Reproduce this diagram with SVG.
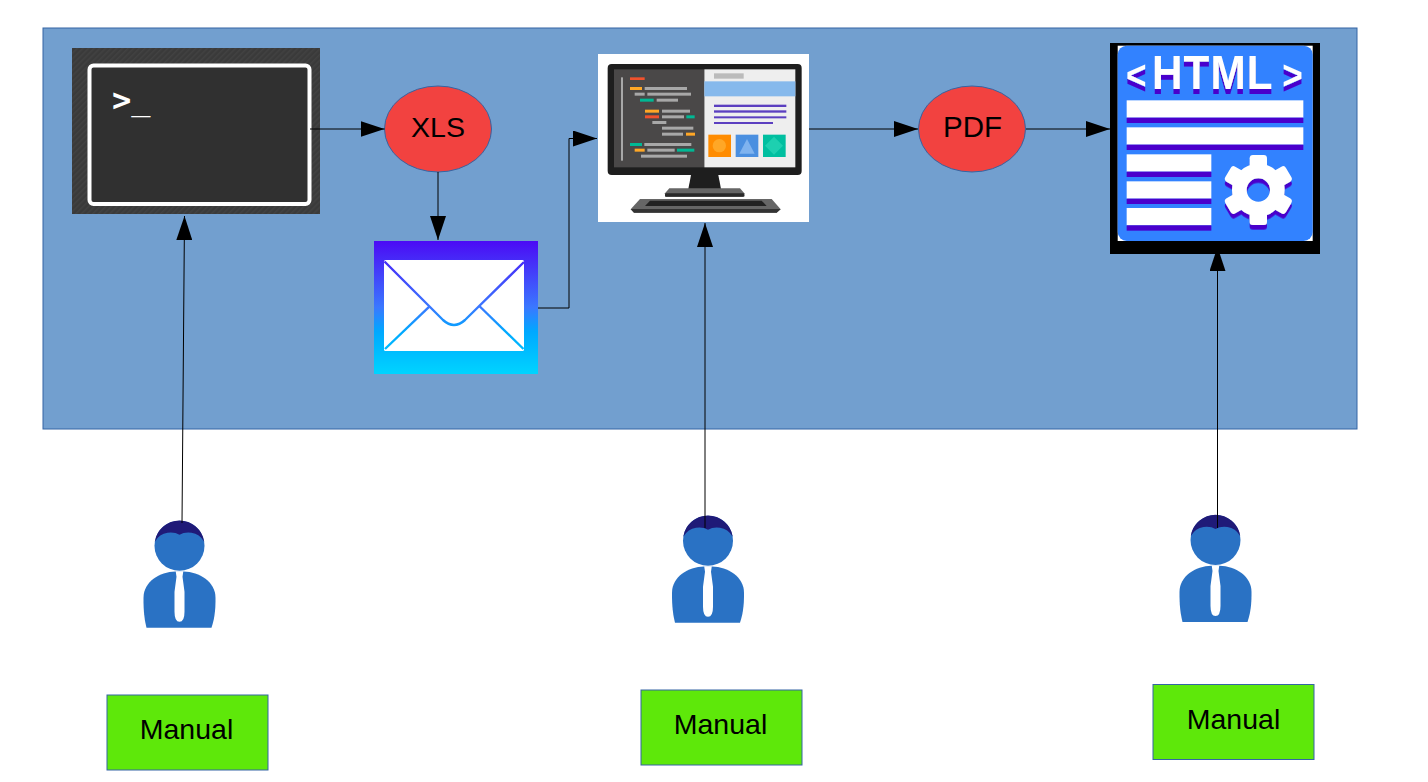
<svg xmlns="http://www.w3.org/2000/svg" width="1428" height="782" viewBox="0 0 1428 782">
<style>
text{font-family:"Liberation Sans",Arial,sans-serif;fill:#000}
.lbl{font-size:28.5px;text-anchor:middle}
.bub{font-size:29.5px;text-anchor:middle}
.bubble{fill:#f24240;stroke:#3465a4;stroke-width:1}
.manual{fill:#5ee80a;stroke:#3465a4;stroke-width:1}
.conn{fill:none;stroke:#000;stroke-width:1;marker-end:url(#arrow)}
.g{fill:#a8a8a8}.o{fill:#ffa726}.r{fill:#f0522d}.t{fill:#00b894}.p{fill:#5b3fc0}
.bar{fill:#fff}.sh{fill:#4a00cc}
</style>
<defs>
<marker id="arrow" markerUnits="userSpaceOnUse" markerWidth="24" markerHeight="16" viewBox="0 0 24 16" refX="24" refY="8" orient="auto"><path d="M0,0L24,8L0,16Z" fill="#000"/></marker>
<pattern id="hatch" width="4" height="4" patternUnits="userSpaceOnUse" patternTransform="rotate(-45)"><rect width="4" height="4" fill="#3a3a3a"/><rect width="4" height="1.5" fill="#424242"/></pattern>
<linearGradient id="envgrad" gradientUnits="userSpaceOnUse" x1="0" y1="241" x2="0" y2="374"><stop offset="0" stop-color="#4b0bf5"/><stop offset=".5" stop-color="#3a78ff"/><stop offset=".68" stop-color="#00a8ff"/><stop offset="1" stop-color="#00d4ff"/></linearGradient>
<filter id="drop" x="-10%" y="-10%" width="120%" height="130%"><feDropShadow dx="0" dy="5" stdDeviation="0" flood-color="#4a00cc"/></filter>
<filter id="drop2" x="-10%" y="-10%" width="120%" height="130%"><feDropShadow dx="0" dy="14" stdDeviation="0" flood-color="#4a00cc"/></filter>
<g id="person">
<path d="M-33,82L32,82C36,70 36,60 36,52C36,36 20,26 4,25.7L-4,25.7C-20,26 -36,36 -36,52C-36,60 -36,70 -33,82Z" fill="#2a72c4"/>
<path d="M-3.8,25.5L3.8,25.5L3,31L5,46L5,66Q5,76 0,76Q-5,76 -5,66L-5,46L-3,31Z" fill="#fff"/>
<circle r="25" fill="#2a72c4"/>
<path d="M-24.7,-4A25,25 0 0 1 24.7,-4Q20,-12 12,-13Q5,-14 0,-11Q-5,-14 -12,-13Q-20,-12 -24.7,-4Z" fill="#1f1a78"/>
</g>
</defs>
<rect width="1428" height="782" fill="#fff"/>
<rect id="panel" x="43" y="28" width="1314" height="401" fill="#729fcf" stroke="#3465a4" stroke-width="1"/>

<g id="terminal">
<rect x="72" y="48" width="248" height="166" fill="url(#hatch)"/>
<rect x="89.5" y="65.5" width="220" height="138.5" rx="4" fill="#303030" stroke="#fff" stroke-width="4"/>
<text x="112" y="111" style="font-family:'DejaVu Sans Mono',monospace;font-size:32px;fill:#fff"><tspan font-weight="bold">&gt;</tspan><tspan dy="-1">_</tspan></text>
</g>

<g id="xls"><ellipse class="bubble" cx="438" cy="129" rx="53.5" ry="43"/><text class="lbl" x="438" y="136.5">XLS</text></g>

<g id="mail">
<rect x="374" y="241" width="164" height="133" fill="url(#envgrad)"/>
<rect x="384" y="260" width="140" height="91" rx="1.5" fill="#fff"/>
<g fill="none" stroke="url(#envgrad)" stroke-width="2.4">
<path d="M384.5,261.5L443,320Q454,330 465,320L524,262"/>
<path d="M429.3,306.7L385,349"/>
<path d="M479.3,306L523.5,349"/>
</g>
</g>

<g id="computer">
<rect x="598" y="54" width="211" height="168" fill="#fff"/>
<g transform="translate(590 40) scale(.33333)">
<path d="M303,405L385,405L393,447L295,447Z" fill="#1e1e1e"/>
<rect x="53" y="72" width="582" height="333" rx="12" fill="#1e1e1e"/>
<path d="M238,445L450,445L463,460L463,470L225,470L225,460Z" fill="#666"/>
<rect x="225" y="460" width="238" height="10" rx="4" fill="#2a2a2a"/>
<path d="M150,477L545,477L572,508L560,518L132,518L122,508Z" fill="#666"/>
<path d="M122,507L572,507L560,518L132,518Z" fill="#333"/>
<path d="M180,482L515,482L530,498L165,498Z" fill="#222"/>
<rect x="72" y="88" width="270" height="294" fill="#4a4848"/>
<rect x="343" y="88" width="273" height="294" fill="#eee"/>
<rect x="93" y="112" width="6" height="250" class="g"/>
<rect x="120" y="112" width="44" height="8" class="r"/>
<rect x="120" y="141" width="36" height="9" class="o"/><rect x="164" y="141" width="127" height="9" class="g"/>
<rect x="134" y="158" width="30" height="9" class="g"/><rect x="172" y="158" width="131" height="9" class="g"/>
<rect x="150" y="176" width="41" height="9" class="t"/><rect x="200" y="176" width="64" height="9" class="g"/>
<rect x="165" y="209" width="42" height="9" class="o"/><rect x="216" y="209" width="84" height="9" class="g"/>
<rect x="165" y="226" width="42" height="9" class="r"/><rect x="216" y="226" width="66" height="9" class="g"/><rect x="289" y="226" width="25" height="9" class="t"/>
<rect x="187" y="243" width="42" height="9" class="g"/>
<rect x="216" y="260" width="94" height="9" class="g"/>
<rect x="216" y="278" width="63" height="9" class="g"/><rect x="288" y="278" width="27" height="9" class="o"/>
<rect x="120" y="309" width="36" height="9" class="t"/><rect x="163" y="309" width="141" height="9" class="g"/>
<rect x="134" y="326" width="30" height="9" class="o"/><rect x="172" y="326" width="82" height="9" class="g"/><rect x="261" y="326" width="52" height="9" class="t"/>
<rect x="153" y="344" width="138" height="9" class="g"/>
<rect x="372" y="100" width="89" height="16" fill="#bbb"/>
<rect x="343" y="124" width="273" height="45" fill="#86b9ec"/>
<rect x="372" y="194" width="217" height="7" class="p"/>
<rect x="372" y="211" width="217" height="7" class="p"/>
<rect x="372" y="229" width="217" height="6" class="p"/>
<rect x="372" y="246" width="177" height="6" class="p"/>
<rect x="355" y="284" width="68" height="67" fill="#ff8c00"/><circle cx="388" cy="317" r="20" fill="#ffa726"/>
<rect x="437" y="284" width="68" height="67" fill="#4a8fe0"/><path d="M471,297L494,341L448,341Z" fill="#7fb3ef"/>
<rect x="519" y="284" width="68" height="67" fill="#00bfa0"/><path d="M552,290L579,317L552,344L525,317Z" fill="#1dd0b0"/>
</g>
</g>

<g id="pdf"><ellipse class="bubble" cx="972" cy="129" rx="53.5" ry="43"/><text class="bub" x="972.5" y="137">PDF</text></g>

<g id="html">
<rect x="1110" y="43" width="210" height="211" fill="#000"/>
<rect x="1117.7" y="45.7" width="195" height="195.3" fill="#fff"/>
<rect x="1117.7" y="45.7" width="195" height="195.3" rx="9" fill="#3282ff"/>
<text transform="translate(1126 89) scale(.88 1)" filter="url(#drop)" style="font-size:48px;font-weight:bold;fill:#fff;letter-spacing:1.2px"><tspan font-size="40">&lt;</tspan><tspan dx="5">HTML</tspan><tspan dx="10" font-size="40">&gt;</tspan></text>
<g transform="translate(1100 35) scale(.33333)">
<rect x="80" y="196" width="530" height="52" class="bar"/><rect x="80" y="248" width="530" height="16" class="sh"/>
<rect x="80" y="277" width="530" height="52" class="bar"/><rect x="80" y="329" width="530" height="16" class="sh"/>
<rect x="80" y="358" width="254" height="52" class="bar"/><rect x="80" y="410" width="254" height="16" class="sh"/>
<rect x="80" y="439" width="254" height="52" class="bar"/><rect x="80" y="491" width="254" height="16" class="sh"/>
<rect x="80" y="519" width="254" height="52" class="bar"/><rect x="80" y="571" width="254" height="16" class="sh"/>
<g transform="translate(475 465)" filter="url(#drop2)">
<circle r="57" fill="none" stroke="#fff" stroke-width="44"/>
<g fill="#fff">
<rect x="-26" y="-105" width="52" height="40" rx="10"/>
<rect x="-26" y="-105" width="52" height="40" rx="10" transform="rotate(60)"/>
<rect x="-26" y="-105" width="52" height="40" rx="10" transform="rotate(120)"/>
<rect x="-26" y="-105" width="52" height="40" rx="10" transform="rotate(180)"/>
<rect x="-26" y="-105" width="52" height="40" rx="10" transform="rotate(240)"/>
<rect x="-26" y="-105" width="52" height="40" rx="10" transform="rotate(300)"/>
</g>
</g>
</g>
</g>

<g id="person1"><use href="#person" x="179.5" y="545.7"/></g>
<g id="person2"><use href="#person" x="708" y="540.7"/></g>
<g id="person3"><use href="#person" x="1215.5" y="540"/></g>

<g id="manual1"><rect class="manual" x="107" y="695" width="161" height="75"/><text class="lbl" x="186.5" y="739">Manual</text></g>
<g id="manual2"><rect class="manual" x="641" y="690" width="161" height="75"/><text class="lbl" x="720.5" y="734">Manual</text></g>
<g id="manual3"><rect class="manual" x="1153" y="684.5" width="161" height="75"/><text class="lbl" x="1233.5" y="729">Manual</text></g>

<g id="connectors">
<path class="conn" d="M310,129L384.5,129"/>
<path class="conn" d="M438,172L438,240"/>
<path class="conn" d="M538,308L569,308L569,138.5L597,138.5"/>
<path class="conn" d="M809,129L918,129"/>
<path class="conn" d="M1026,129L1110,129"/>
<path class="conn" d="M182,523L184.5,216"/>
<path class="conn" d="M705,528L705,223"/>
<path class="conn" d="M1217.5,528L1217.5,247"/>
</g>
</svg>
